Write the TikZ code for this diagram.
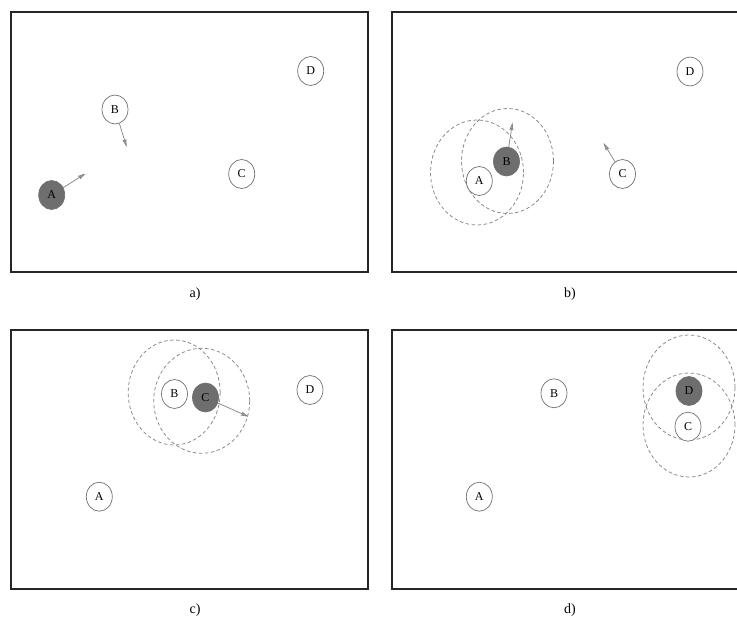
\documentclass[tikz,border=0pt]{standalone}
\usepackage{fontspec}
\setmainfont{Liberation Serif}
\usetikzlibrary{shapes.geometric,arrows.meta}
\definecolor{nodeline}{HTML}{707070}
\definecolor{activefill}{HTML}{6E6E6E}
\definecolor{rangeline}{HTML}{858585}
\tikzset{
  frame/.style={line width=1.2pt, draw=black!85},
  host/.style={ellipse, draw=nodeline, line width=0.7pt, fill=white, minimum width=26pt, minimum height=29pt, inner sep=0pt, font=\fontsize{12}{12}\selectfont},
  active/.style={host, fill=activefill},
  rangecirc/.style={draw=rangeline, dash pattern=on 3.5pt off 2.5pt, line width=0.75pt},
  motion/.style={draw=gray, line width=0.7pt, -{Stealth[length=8pt,width=4pt,inset=1.5pt,fill=gray!60]}},
  caption/.style={font=\fontsize{14}{14}\selectfont}
}
\begin{document}
\begin{tikzpicture}[x=1pt,y=-1pt]
\useasboundingbox (0,0) rectangle (737,618);
% frames
\draw[frame] (11,12) rectangle (368,272);
\draw[frame] (737,12) -- (392,12) -- (392,272) -- (737,272);
\draw[frame] (11,330) rectangle (368,589);
\draw[frame] (737,330) -- (392,330) -- (392,589) -- (737,589);
% captions
\node[caption] (capa) at (195,294) {a)};
\node[caption] (capb) at (570,294) {b)};
\node[caption] (capc) at (195,610) {c)};
\node[caption] (capd) at (570,610) {d)};
% range circles
\draw[rangecirc] (477,172.5) ellipse [x radius=46.5pt, y radius=52.5pt];
\draw[rangecirc] (507.5,161) ellipse [x radius=46pt, y radius=52.5pt];
\draw[rangecirc] (174.2,392.5) ellipse [x radius=46pt, y radius=52.5pt];
\draw[rangecirc] (201.7,400.8) ellipse [x radius=48pt, y radius=52.5pt];
\draw[rangecirc] (689,387.5) ellipse [x radius=46pt, y radius=52.5pt];
\draw[rangecirc] (689,425) ellipse [x radius=46pt, y radius=52pt];
% panel a
\node[active] (aA) at (51.7,195) {A};
\node[host] (aB) at (115,109.5) {B};
\node[host] (aC) at (241.7,174) {C};
\node[host] (aD) at (310.7,71) {D};
\coordinate (aAend) at (85.5,173.5);
\coordinate (aBend) at (126.7,147);
\draw[motion] (aA) -- (aAend);
\draw[motion] (aB) -- (aBend);
% panel b
\node[host] (bA) at (479.3,181) {A};
\node[active] (bB) at (506.5,161.5) {B};
\node[host] (bC) at (622.5,174) {C};
\node[host] (bD) at (690,71.5) {D};
\coordinate (bBend) at (512.5,122.5);
\coordinate (bCend) at (603.5,143);
\draw[motion] (bB) -- (bBend);
\draw[motion] (bC) -- (bCend);
% panel c
\node[host] (cA) at (99.3,496.7) {A};
\node[host] (cB) at (174.5,394) {B};
\node[active] (cC) at (205.5,397.5) {C};
\node[host] (cD) at (310,390) {D};
\coordinate (cCend) at (248.5,416.7);
\draw[motion] (cC) -- (cCend);
% panel d
\node[host] (dA) at (479.3,496.7) {A};
\node[host] (dB) at (554,393.3) {B};
\node[host] (dC) at (688,426.7) {C};
\node[active] (dD) at (689,391) {D};
\end{tikzpicture}
\end{document}
